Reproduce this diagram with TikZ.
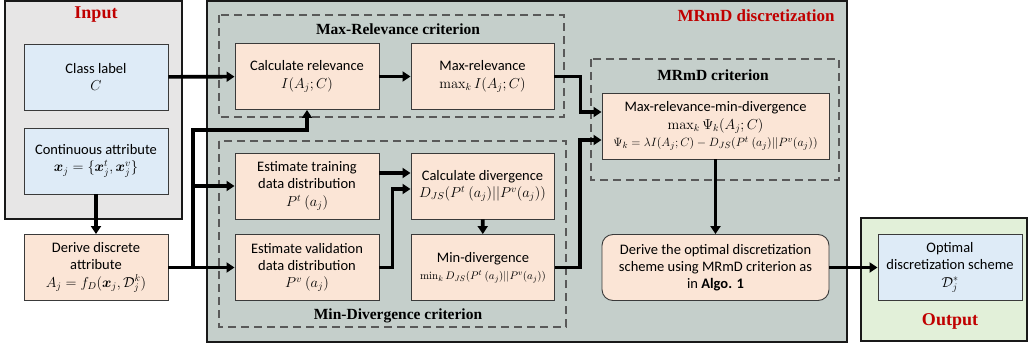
\documentclass[tikz,border=0pt]{standalone}
\usepackage{amsmath,amssymb}
\usepackage[no-math]{fontspec}
\setmainfont{Carlito}
\newfontfamily\headfont{Liberation Serif}
\usetikzlibrary{arrows.meta,calc}
\definecolor{titlered}{HTML}{C00000}
\definecolor{inputgray}{HTML}{E7E6E6}
\definecolor{panelgray}{HTML}{C5CFCB}
\definecolor{outgreen}{HTML}{E2F0D9}
\definecolor{boxblue}{HTML}{DEEBF7}
\definecolor{boxorange}{HTML}{FBE5D6}
\definecolor{boxline}{HTML}{3A3A3A}
\definecolor{dashgray}{HTML}{595959}
\begin{document}
\begin{tikzpicture}[x=1pt,y=-1pt,
        panel/.style={draw=black!90,line width=2.2pt},
        group/.style={draw=dashgray,line width=1.8pt,dash pattern=on 8pt off 5pt},
        box/.style={draw=boxline,line width=0.9pt,fill=boxorange,minimum width=144pt,
            minimum height=66pt,inner sep=0pt,align=center,font=\fontsize{14.5}{17.3}\selectfont},
        inbox/.style={box,fill=boxblue},
        redtitle/.style={text=titlered,font=\headfont\bfseries\fontsize{18}{20}\selectfont},
        grouptitle/.style={font=\headfont\bfseries\fontsize{15.5}{18}\selectfont},
        arr/.style={line width=3.6pt,-{Triangle[length=8pt,width=10pt]}}]
            \useasboundingbox (0,0) rectangle (1031,345);

            \draw[panel,fill=inputgray] (5,1) rectangle (182,219);
            \draw[panel,fill=panelgray] (207,1) rectangle (847,342);
            \draw[panel,fill=outgreen] (861,218) rectangle (1027,341);

            \node[redtitle] (intitle) at (96,15) {Input};
            \node[redtitle,font=\headfont\bfseries\fontsize{17}{20}\selectfont] (maintitle) at (756,16) {MRmD discretization};
            \node[redtitle] (outtitle) at (950,321) {Output};

            \draw[group] (219,15) rectangle (564,117);
            \draw[group] (219,141) rectangle (566,327);
            \draw[group] (591,59) rectangle (839,180);

            \node[grouptitle] (reltitle) at (398,29) {Max-Relevance criterion};
            \node[grouptitle] (divtitle) at (398,316) {Min-Divergence criterion};
            \node[grouptitle] (mrmdtitle) at (713,75) {MRmD criterion};

            \node[inbox] (classlbl) at (96,77) {Class label\\ $C$};
            \node[inbox] (contattr) at (96,161) {Continuous attribute\\
                $\boldsymbol{x}_j=\{\boldsymbol{x}_j^t,\boldsymbol{x}_j^v\}$};
            \node[box] (derive) at (96,267.5) {Derive discrete\\ attribute\\
                $A_j=f_D(\boldsymbol{x}_j,\mathcal{D}_j^k)$};

            \node[box] (calcrel) at (307,76.5) {Calculate relevance\\ $I(A_j;C)$};
            \node[box,minimum width=143pt] (maxrel) at (482.5,76.5) {Max-relevance\\
                $\max_k I(A_j;C)$};
            \node[box] (esttrain) at (307,186) {Estimate training\\ data distribution\\ $P^t\ (a_j)$};
            \node[box] (estval) at (307,267.5) {Estimate validation\\ data distribution\\ $P^v\ (a_j)$};
            \node[box,minimum width=143pt] (calcdiv) at (482.5,186) {Calculate divergence\\
                $D_{JS}(P^t\ (a_j)||P^v(a_j))$};
            \node[box,minimum width=143pt] (mindiv) at (483,267.5) {Min-divergence\\
                {\fontsize{11}{13}\selectfont$\min_k D_{JS}(P^t\ (a_j)||P^v(a_j))$}};

            \node[box,minimum width=227pt] (mrmd) at (715.5,126) {Max-relevance-min-divergence\\
                $\max_k\Psi_k(A_j;C)$\\
                {\fontsize{12.5}{15}\selectfont$\Psi_k=\lambda I(A_j;C)-D_{JS}(P^t\ (a_j)||P^v(a_j))$}};
            \node[box,minimum width=227pt,rounded corners=11pt] (optderive) at (715.5,267.5)
                {Derive the optimal discretization\\ scheme using MRmD criterion as\\ in \textbf{Algo. 1}};
            \node[inbox] (optscheme) at (950,267.5) {Optimal\\ discretization scheme\\ $\mathcal{D}_j^*$};

            \coordinate (jn) at (193,267.5);
            \coordinate (jtop) at (193,130);

            \draw[arr] (classlbl) -- (calcrel);
            \draw[arr] (contattr) -- (derive);
            \draw[arr] (derive) -- (estval);
            \draw[arr] (jn) -- (jtop) -| (calcrel.south);
            \draw[arr] (jn |- esttrain.west) -- (esttrain.west);
            \draw[arr] (calcrel) -- (maxrel);
            \draw[arr] ($(esttrain.east)+(0,-13)$) -- ($(calcdiv.west)+(0,-13)$);
            \draw[arr] (estval.east) -- ++(13,0) |- ($(calcdiv.west)+(0,3)$);
            \draw[arr] (calcdiv) -- (mindiv);
            \draw[arr] (maxrel.east) -- ++(26,0) |- ($(mrmd.west)+(0,-14)$);
            \draw[arr] (mindiv.east) -- ++(25,0) |- ($(mrmd.west)+(0,14)$);
            \draw[arr] (mrmd) -- (optderive);
            \draw[arr] (optderive) -- (optscheme);
        \end{tikzpicture}
\end{document}
